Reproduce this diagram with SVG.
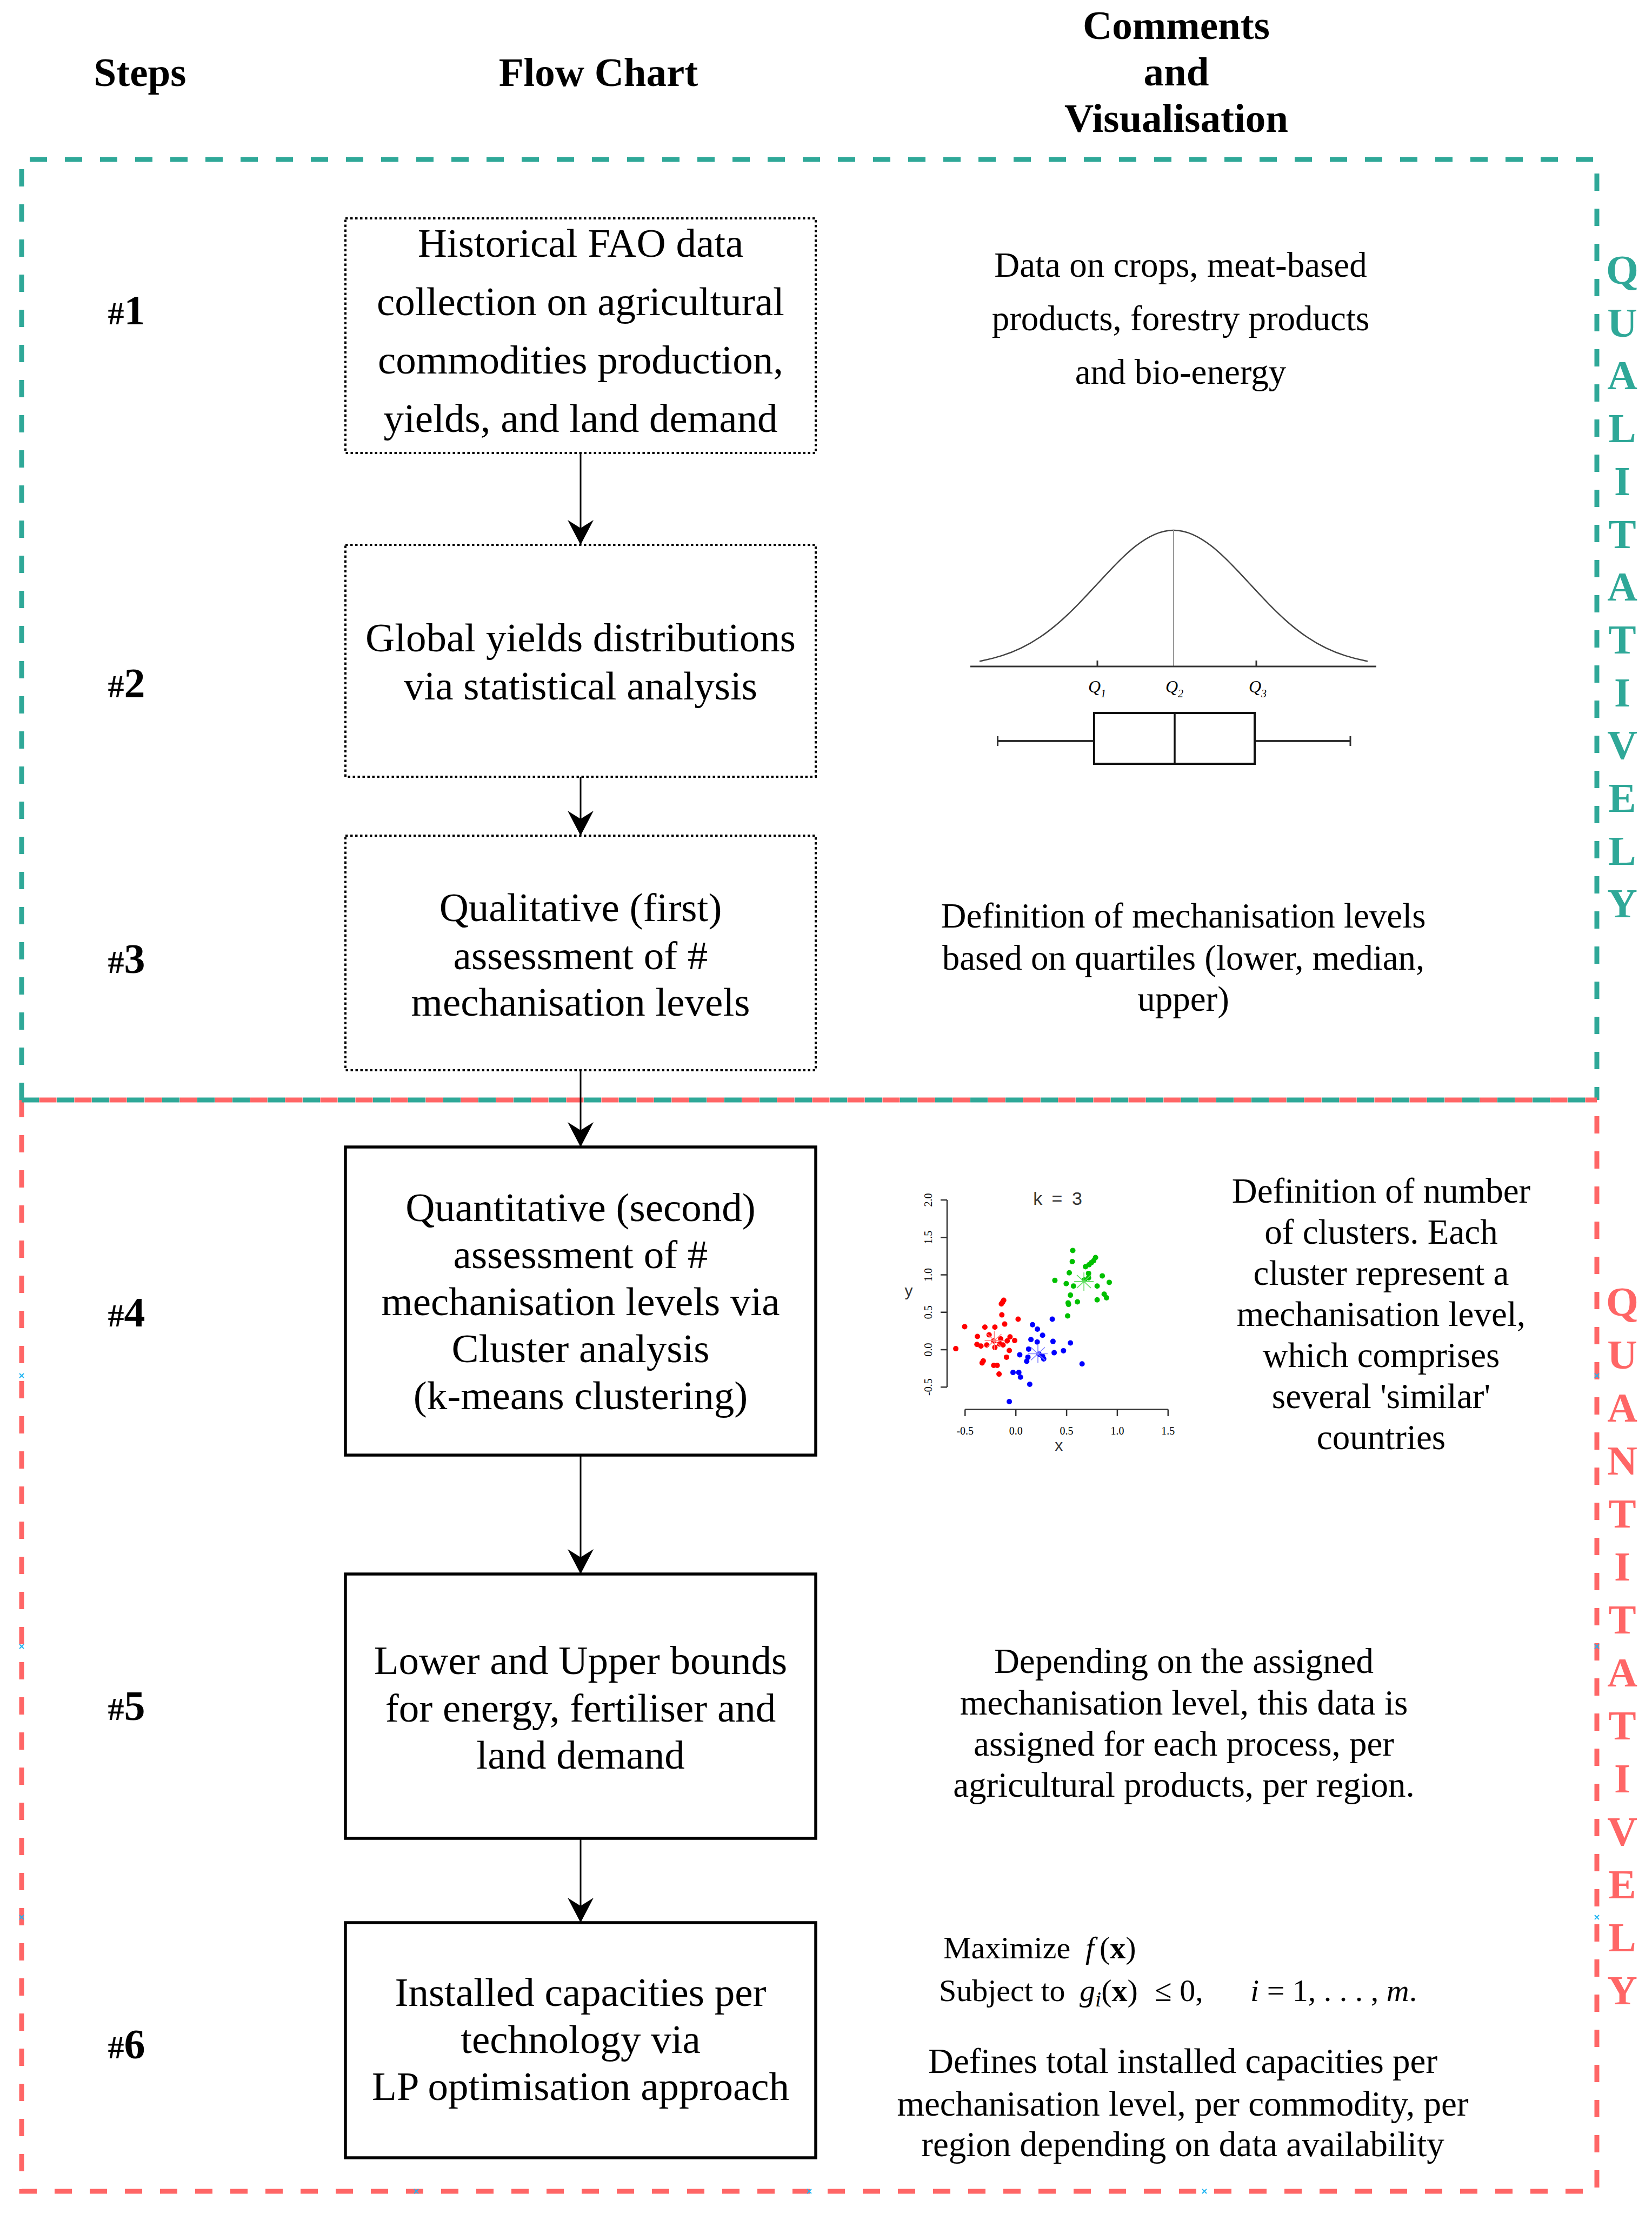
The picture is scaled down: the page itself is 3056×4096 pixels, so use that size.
<svg xmlns="http://www.w3.org/2000/svg" width="3056" height="4096" viewBox="0 0 3056 4096">
<style>
text{font-family:"Liberation Serif","Times New Roman",serif;fill:#000}
.hdr{font-size:75px;font-weight:bold;text-anchor:middle}
.step{font-weight:bold;text-anchor:middle}
.box{font-size:75px;text-anchor:middle}
.cmt{font-size:65px;text-anchor:middle}
.side{font-weight:bold;text-anchor:middle;font-size:77px}
.tealt{fill:#2fa898}
.redt{fill:#ff6666}
.dotted{fill:#fff;stroke:#000;stroke-width:4;stroke-dasharray:4.5 4.5}
.solid{fill:#fff;stroke:#000;stroke-width:5.5}
.conn{stroke:#000;stroke-width:3;fill:none}
.tdash{fill:none;stroke:#2fa898;stroke-width:9;stroke-dasharray:32 33}
.rdash{fill:none;stroke:#ff6666;stroke-width:9;stroke-dasharray:32 33}
.sans{font-family:"Liberation Sans",Arial,sans-serif;fill:#333}
.tk{font-size:20px;text-anchor:middle}
.q{font-size:32px;font-style:italic}
.sub{font-size:20px}
.ax{stroke:#333;stroke-width:2.5;fill:none}
.cx{stroke:#21b5f2;stroke-width:2;fill:none}
</style>
<defs>
<marker id="arr" viewBox="0 0 46 48" refX="46" refY="24" markerWidth="46" markerHeight="48" markerUnits="userSpaceOnUse" orient="auto">
<path d="M0,0 L46,24 L0,48 L15,24 Z" fill="#000"/>
</marker>
<path id="star" d="M-18,0 H18 M0,-17 V17 M-13,-12 L13,12 M-13,12 L13,-12" fill="none" stroke-width="1.6"/>
<path id="cxm" d="M-4,-4 L4,4 M-4,4 L4,-4"/>
</defs>
<rect width="3056" height="4096" fill="#fff"/>

<g id="headers">
<text class="hdr" x="259" y="159">Steps</text>
<text class="hdr" x="1107" y="159">Flow Chart</text>
<text class="hdr" x="2176" y="72">Comments</text>
<text class="hdr" x="2176" y="158">and</text>
<text class="hdr" x="2176" y="244">Visualisation</text>
</g>

<g id="regions">
<path class="tdash" d="M40,2035 V295 H2954 V2035"/>
<path class="rdash" d="M40,2035 V4054 H2954 V2035"/>
<line class="tdash" x1="40" y1="2035" x2="2954" y2="2035"/>
<line class="rdash" x1="40" y1="2035" x2="2954" y2="2035" stroke-dashoffset="32.5"/>
<g class="cx">
<use href="#cxm" x="770" y="4054"/><use href="#cxm" x="1497" y="4054"/><use href="#cxm" x="2228" y="4054"/>
<use href="#cxm" x="40" y="2545"/><use href="#cxm" x="40" y="3046"/><use href="#cxm" x="40" y="3547"/>
<use href="#cxm" x="2954" y="2545"/><use href="#cxm" x="2954" y="3046"/><use href="#cxm" x="2954" y="3547"/>
</g>
</g>

<g id="side-labels">
<text class="side tealt">
<tspan x="3001" y="525">Q</tspan><tspan x="3001" y="623">U</tspan><tspan x="3001" y="720">A</tspan><tspan x="3001" y="818">L</tspan><tspan x="3001" y="916">I</tspan><tspan x="3001" y="1014">T</tspan><tspan x="3001" y="1111">A</tspan><tspan x="3001" y="1209">T</tspan><tspan x="3001" y="1307">I</tspan><tspan x="3001" y="1404">V</tspan><tspan x="3001" y="1502">E</tspan><tspan x="3001" y="1600">L</tspan><tspan x="3001" y="1697">Y</tspan>
</text>
<text class="side redt">
<tspan x="3001" y="2434">Q</tspan><tspan x="3001" y="2532">U</tspan><tspan x="3001" y="2630">A</tspan><tspan x="3001" y="2728">N</tspan><tspan x="3001" y="2826">T</tspan><tspan x="3001" y="2924">I</tspan><tspan x="3001" y="3022">T</tspan><tspan x="3001" y="3120">A</tspan><tspan x="3001" y="3218">T</tspan><tspan x="3001" y="3316">I</tspan><tspan x="3001" y="3414">V</tspan><tspan x="3001" y="3512">E</tspan><tspan x="3001" y="3610">L</tspan><tspan x="3001" y="3708">Y</tspan>
</text>
</g>

<g id="steps">
<text class="step" x="234" y="600"><tspan font-size="60">#</tspan><tspan font-size="78">1</tspan></text>
<text class="step" x="234" y="1290"><tspan font-size="60">#</tspan><tspan font-size="78">2</tspan></text>
<text class="step" x="234" y="1800"><tspan font-size="60">#</tspan><tspan font-size="78">3</tspan></text>
<text class="step" x="234" y="2454"><tspan font-size="60">#</tspan><tspan font-size="78">4</tspan></text>
<text class="step" x="234" y="3182"><tspan font-size="60">#</tspan><tspan font-size="78">5</tspan></text>
<text class="step" x="234" y="3808"><tspan font-size="60">#</tspan><tspan font-size="78">6</tspan></text>
</g>

<g id="connectors">
<line class="conn" x1="1074" y1="838" x2="1074" y2="1008" marker-end="url(#arr)"/>
<line class="conn" x1="1074" y1="1437" x2="1074" y2="1546" marker-end="url(#arr)"/>
<line class="conn" x1="1074" y1="1980" x2="1074" y2="2122" marker-end="url(#arr)"/>
<line class="conn" x1="1074" y1="2692" x2="1074" y2="2912" marker-end="url(#arr)"/>
<line class="conn" x1="1074" y1="3401" x2="1074" y2="3557" marker-end="url(#arr)"/>
</g>

<g id="node1">
<rect class="dotted" x="639" y="404" width="870" height="434"/>
<text class="box" x="1074" y="475">Historical FAO data</text>
<text class="box" x="1074" y="583">collection on agricultural</text>
<text class="box" x="1074" y="691">commodities production,</text>
<text class="box" x="1074" y="799">yields, and land demand</text>
</g>
<g id="node2">
<rect class="dotted" x="639" y="1008" width="870" height="429"/>
<text class="box" x="1074" y="1205">Global yields distributions</text>
<text class="box" x="1074" y="1294">via statistical analysis</text>
</g>
<g id="node3">
<rect class="dotted" x="639" y="1546" width="870" height="434"/>
<text class="box" x="1074" y="1704">Qualitative (first)</text>
<text class="box" x="1074" y="1793">assessment of #</text>
<text class="box" x="1074" y="1879">mechanisation levels</text>
</g>
<g id="node4">
<rect class="solid" x="639" y="2122" width="870" height="570"/>
<text class="box" x="1074" y="2259">Quantitative (second)</text>
<text class="box" x="1074" y="2346">assessment of #</text>
<text class="box" x="1074" y="2433">mechanisation levels via</text>
<text class="box" x="1074" y="2520">Cluster analysis</text>
<text class="box" x="1074" y="2607">(k-means clustering)</text>
</g>
<g id="node5">
<rect class="solid" x="639" y="2912" width="870" height="489"/>
<text class="box" x="1074" y="3097">Lower and Upper bounds</text>
<text class="box" x="1074" y="3185">for energy, fertiliser and</text>
<text class="box" x="1074" y="3272">land demand</text>
</g>
<g id="node6">
<rect class="solid" x="639" y="3557" width="870" height="435"/>
<text class="box" x="1074" y="3711">Installed capacities per</text>
<text class="box" x="1074" y="3798">technology via</text>
<text class="box" x="1074" y="3885">LP optimisation approach</text>
</g>

<g id="comment1">
<text class="cmt" x="2184" y="512">Data on crops, meat-based</text>
<text class="cmt" x="2184" y="611">products, forestry products</text>
<text class="cmt" x="2184" y="710">and bio-energy</text>
</g>

<g id="distribution">
<path d="M1812,1223.5 C1814,1223 1816,1222.4 1818.5,1221.9 C1830.25,1219.59 1842,1216.67 1853.75,1212.9 C1865.5,1209.13 1877.25,1204.58 1889,1198.9 C1900.75,1193.22 1912.5,1186.45 1924.25,1178.5 C1936,1170.55 1947.75,1161.42 1959.5,1151.2 C1971.25,1140.98 1983,1129.62 1994.75,1117.6 C2006.5,1105.58 2018.25,1092.93 2030,1080.2 C2041.75,1067.47 2053.5,1054.69 2065.25,1042.8 C2077,1030.91 2088.75,1019.87 2100.5,1010.6 C2112.25,1001.33 2124,993.89 2135.75,988.8 C2147.5,983.71 2159.25,981 2171,981 C2182.75,981 2194.5,983.71 2206.25,988.8 C2218,993.89 2229.75,1001.33 2241.5,1010.6 C2253.25,1019.87 2265,1030.91 2276.75,1042.8 C2288.5,1054.69 2300.25,1067.47 2312,1080.2 C2323.75,1092.93 2335.5,1105.58 2347.25,1117.6 C2359,1129.62 2370.75,1140.98 2382.5,1151.2 C2394.25,1161.42 2406,1170.55 2417.75,1178.5 C2429.5,1186.45 2441.25,1193.22 2453,1198.9 C2464.75,1204.58 2476.5,1209.13 2488.25,1212.9 C2500,1216.67 2511.75,1219.59 2523.5,1221.9 C2526,1222.4 2528,1223 2530,1223.5" fill="none" stroke="#444" stroke-width="2.5"/>
<line x1="2171" y1="981" x2="2171" y2="1233" stroke="#999" stroke-width="2"/>
<line x1="1795" y1="1233" x2="2546" y2="1233" stroke="#333" stroke-width="3"/>
<line x1="2030" y1="1233" x2="2030" y2="1222" stroke="#333" stroke-width="3"/>
<line x1="2324" y1="1233" x2="2324" y2="1222" stroke="#333" stroke-width="3"/>
<text class="q" x="2013" y="1281">Q<tspan class="sub" dy="9">1</tspan></text>
<text class="q" x="2156" y="1281">Q<tspan class="sub" dy="9">2</tspan></text>
<text class="q" x="2310" y="1281">Q<tspan class="sub" dy="9">3</tspan></text>
<line x1="1845.5" y1="1371" x2="2024" y2="1371" stroke="#333" stroke-width="4"/>
<line x1="2321" y1="1371" x2="2498" y2="1371" stroke="#333" stroke-width="4"/>
<line x1="1845.5" y1="1362" x2="1845.5" y2="1380" stroke="#333" stroke-width="3"/>
<line x1="2498" y1="1362" x2="2498" y2="1380" stroke="#333" stroke-width="3"/>
<rect x="2024" y="1319" width="297" height="94" fill="none" stroke="#111" stroke-width="4"/>
<line x1="2173" y1="1319" x2="2173" y2="1413" stroke="#111" stroke-width="3.5"/>
</g>

<g id="comment3">
<text class="cmt" x="2189" y="1716">Definition of mechanisation levels</text>
<text class="cmt" x="2189" y="1794">based on quartiles (lower, median,</text>
<text class="cmt" x="2189" y="1870">upper)</text>
</g>

<g id="scatter">
<text class="sans" x="1956.5" y="2229" font-size="34" text-anchor="middle" word-spacing="8">k = 3</text>
<line class="ax" x1="1752" y1="2220" x2="1752" y2="2566.2"/>
<path class="ax" d="M1740,2220 H1752 M1740,2289.2 H1752 M1740,2358.5 H1752 M1740,2427.7 H1752 M1740,2497 H1752 M1740,2566.2 H1752"/>
<g class="sans tk">
<text transform="translate(1724,2220) rotate(-90)">2.0</text>
<text transform="translate(1724,2289.2) rotate(-90)">1.5</text>
<text transform="translate(1724,2358.5) rotate(-90)">1.0</text>
<text transform="translate(1724,2427.7) rotate(-90)">0.5</text>
<text transform="translate(1724,2497) rotate(-90)">0.0</text>
<text transform="translate(1724,2566.2) rotate(-90)">-0.5</text>
<text x="1785.3" y="2654">-0.5</text>
<text x="1879.2" y="2654">0.0</text>
<text x="1973.1" y="2654">0.5</text>
<text x="2066.9" y="2654">1.0</text>
<text x="2160.8" y="2654">1.5</text>
</g>
<line class="ax" x1="1785.3" y1="2607.6" x2="2160.8" y2="2607.6"/>
<path class="ax" d="M1785.3,2607.6 V2620 M1879.2,2607.6 V2620 M1973.1,2607.6 V2620 M2066.9,2607.6 V2620 M2160.8,2607.6 V2620"/>
<text class="sans" x="1958.7" y="2684" font-size="30" text-anchor="middle">x</text>
<text class="sans" x="1681" y="2398" font-size="30" text-anchor="middle">y</text>
<g fill="#ff0000">
<circle cx="1856.7" cy="2405.5" r="5"/><circle cx="1854.6" cy="2409.3" r="5"/><circle cx="1852.4" cy="2412.3" r="5"/><circle cx="1853.3" cy="2432.6" r="5"/><circle cx="1784.5" cy="2454.4" r="5"/><circle cx="1821.9" cy="2455.2" r="5"/><circle cx="1840.4" cy="2455.2" r="5"/><circle cx="1858.5" cy="2449.6" r="5"/><circle cx="1883.4" cy="2440.5" r="5"/><circle cx="1808.1" cy="2472.5" r="5"/><circle cx="1868.4" cy="2473.3" r="5"/><circle cx="1863.2" cy="2480.8" r="5"/><circle cx="1877" cy="2480" r="5"/><circle cx="1807.3" cy="2487.2" r="5"/><circle cx="1814.6" cy="2490.2" r="5"/><circle cx="1825.4" cy="2488.3" r="5"/><circle cx="1840.4" cy="2492.8" r="5"/><circle cx="1855.5" cy="2488.3" r="5"/><circle cx="1849" cy="2486.4" r="5"/><circle cx="1768.1" cy="2495.1" r="5"/><circle cx="1867.1" cy="2498.5" r="5"/><circle cx="1861.9" cy="2510.9" r="5"/><circle cx="1818.9" cy="2517.7" r="5"/><circle cx="1816.8" cy="2521.4" r="5"/><circle cx="1838.3" cy="2526" r="5"/><circle cx="1844.7" cy="2526" r="5"/><circle cx="1848.1" cy="2542.1" r="5"/><circle cx="1851.2" cy="2477" r="5"/><circle cx="1838.3" cy="2480.8" r="5"/><circle cx="1829.7" cy="2469.5" r="5"/>
</g>
<g fill="#0000ff">
<circle cx="1946.6" cy="2440.5" r="5"/><circle cx="1910.1" cy="2450.7" r="5"/><circle cx="1919.1" cy="2459" r="5"/><circle cx="1928.6" cy="2470.3" r="5"/><circle cx="1907.1" cy="2478.2" r="5"/><circle cx="1918.7" cy="2482.7" r="5"/><circle cx="1947.9" cy="2481.6" r="5"/><circle cx="1980.2" cy="2484.5" r="5"/><circle cx="1902.8" cy="2495.9" r="5"/><circle cx="1967.3" cy="2498.9" r="5"/><circle cx="1950.1" cy="2502.6" r="5"/><circle cx="1886.4" cy="2506.4" r="5"/><circle cx="1901.5" cy="2510.9" r="5"/><circle cx="1899.3" cy="2518.4" r="5"/><circle cx="1928.6" cy="2509" r="5"/><circle cx="1930.7" cy="2513.9" r="5"/><circle cx="1874" cy="2539.1" r="5"/><circle cx="1884.7" cy="2539.1" r="5"/><circle cx="1887.7" cy="2547.8" r="5"/><circle cx="1904.9" cy="2561" r="5"/><circle cx="1867.1" cy="2593" r="5"/><circle cx="2001.7" cy="2523.3" r="5"/><circle cx="1922.1" cy="2505.3" r="5"/>
</g>
<g fill="#00c000">
<circle cx="1984.5" cy="2313.4" r="5"/><circle cx="1983.6" cy="2334" r="5"/><circle cx="2026.6" cy="2326.5" r="5"/><circle cx="2023.2" cy="2332.2" r="5"/><circle cx="2018.9" cy="2335.9" r="5"/><circle cx="2014.6" cy="2339.7" r="5"/><circle cx="2008.1" cy="2343.4" r="5"/><circle cx="1978" cy="2354.7" r="5"/><circle cx="2013.7" cy="2355.9" r="5"/><circle cx="2013.7" cy="2364.1" r="5"/><circle cx="1951.4" cy="2368.7" r="5"/><circle cx="1972.4" cy="2374.7" r="5"/><circle cx="1985.8" cy="2379.2" r="5"/><circle cx="2039.1" cy="2360.4" r="5"/><circle cx="2052" cy="2372.4" r="5"/><circle cx="2029.6" cy="2379.2" r="5"/><circle cx="1980.2" cy="2396.1" r="5"/><circle cx="2042.6" cy="2394.2" r="5"/><circle cx="2046.9" cy="2401" r="5"/><circle cx="1993.1" cy="2408.5" r="5"/><circle cx="1975.9" cy="2410.4" r="5"/><circle cx="1976.7" cy="2413.1" r="5"/><circle cx="2029.6" cy="2404.8" r="5"/><circle cx="1975" cy="2434.5" r="5"/><circle cx="2006" cy="2367.9" r="5"/>
</g>
<use href="#star" x="1839.5" y="2480" stroke="#ff7f7f"/>
<use href="#star" x="1920" y="2504.5" stroke="#7f7fff"/>
<use href="#star" x="2005.1" y="2370.9" stroke="#66dd66"/>
</g>

<g id="comment4">
<text class="cmt" x="2555" y="2225">Definition of number</text>
<text class="cmt" x="2555" y="2301">of clusters. Each</text>
<text class="cmt" x="2555" y="2377">cluster represent a</text>
<text class="cmt" x="2555" y="2453">mechanisation level,</text>
<text class="cmt" x="2555" y="2529">which comprises</text>
<text class="cmt" x="2555" y="2605">several 'similar'</text>
<text class="cmt" x="2555" y="2681">countries</text>
</g>

<g id="comment5">
<text class="cmt" x="2190" y="3095">Depending on the assigned</text>
<text class="cmt" x="2190" y="3172">mechanisation level, this data is</text>
<text class="cmt" x="2190" y="3248">assigned for each process, per</text>
<text class="cmt" x="2190" y="3324">agricultural products, per region.</text>
</g>

<g id="comment6" fill="#222">
<text x="1745" y="3623" font-size="58">Maximize</text>
<text x="2008" y="3623" font-size="58" font-style="italic">f</text>
<text x="2034" y="3623" font-size="58">(<tspan font-weight="bold">x</tspan>)</text>
<text x="1737" y="3702" font-size="58">Subject to</text>
<text x="1997" y="3702" font-size="58"><tspan font-style="italic">g</tspan><tspan font-style="italic" font-size="40" dy="10">i</tspan><tspan dy="-10">(</tspan><tspan font-weight="bold">x</tspan>)</text>
<text x="2136" y="3702" font-size="58">≤ 0,</text>
<text x="2313" y="3702" font-size="58"><tspan font-style="italic">i</tspan> = 1, . . . , <tspan font-style="italic">m</tspan>.</text>
<text class="cmt" x="2188" y="3835">Defines total installed capacities per</text>
<text class="cmt" x="2188" y="3914">mechanisation level, per commodity, per</text>
<text class="cmt" x="2188" y="3989">region depending on data availability</text>
</g>
</svg>
